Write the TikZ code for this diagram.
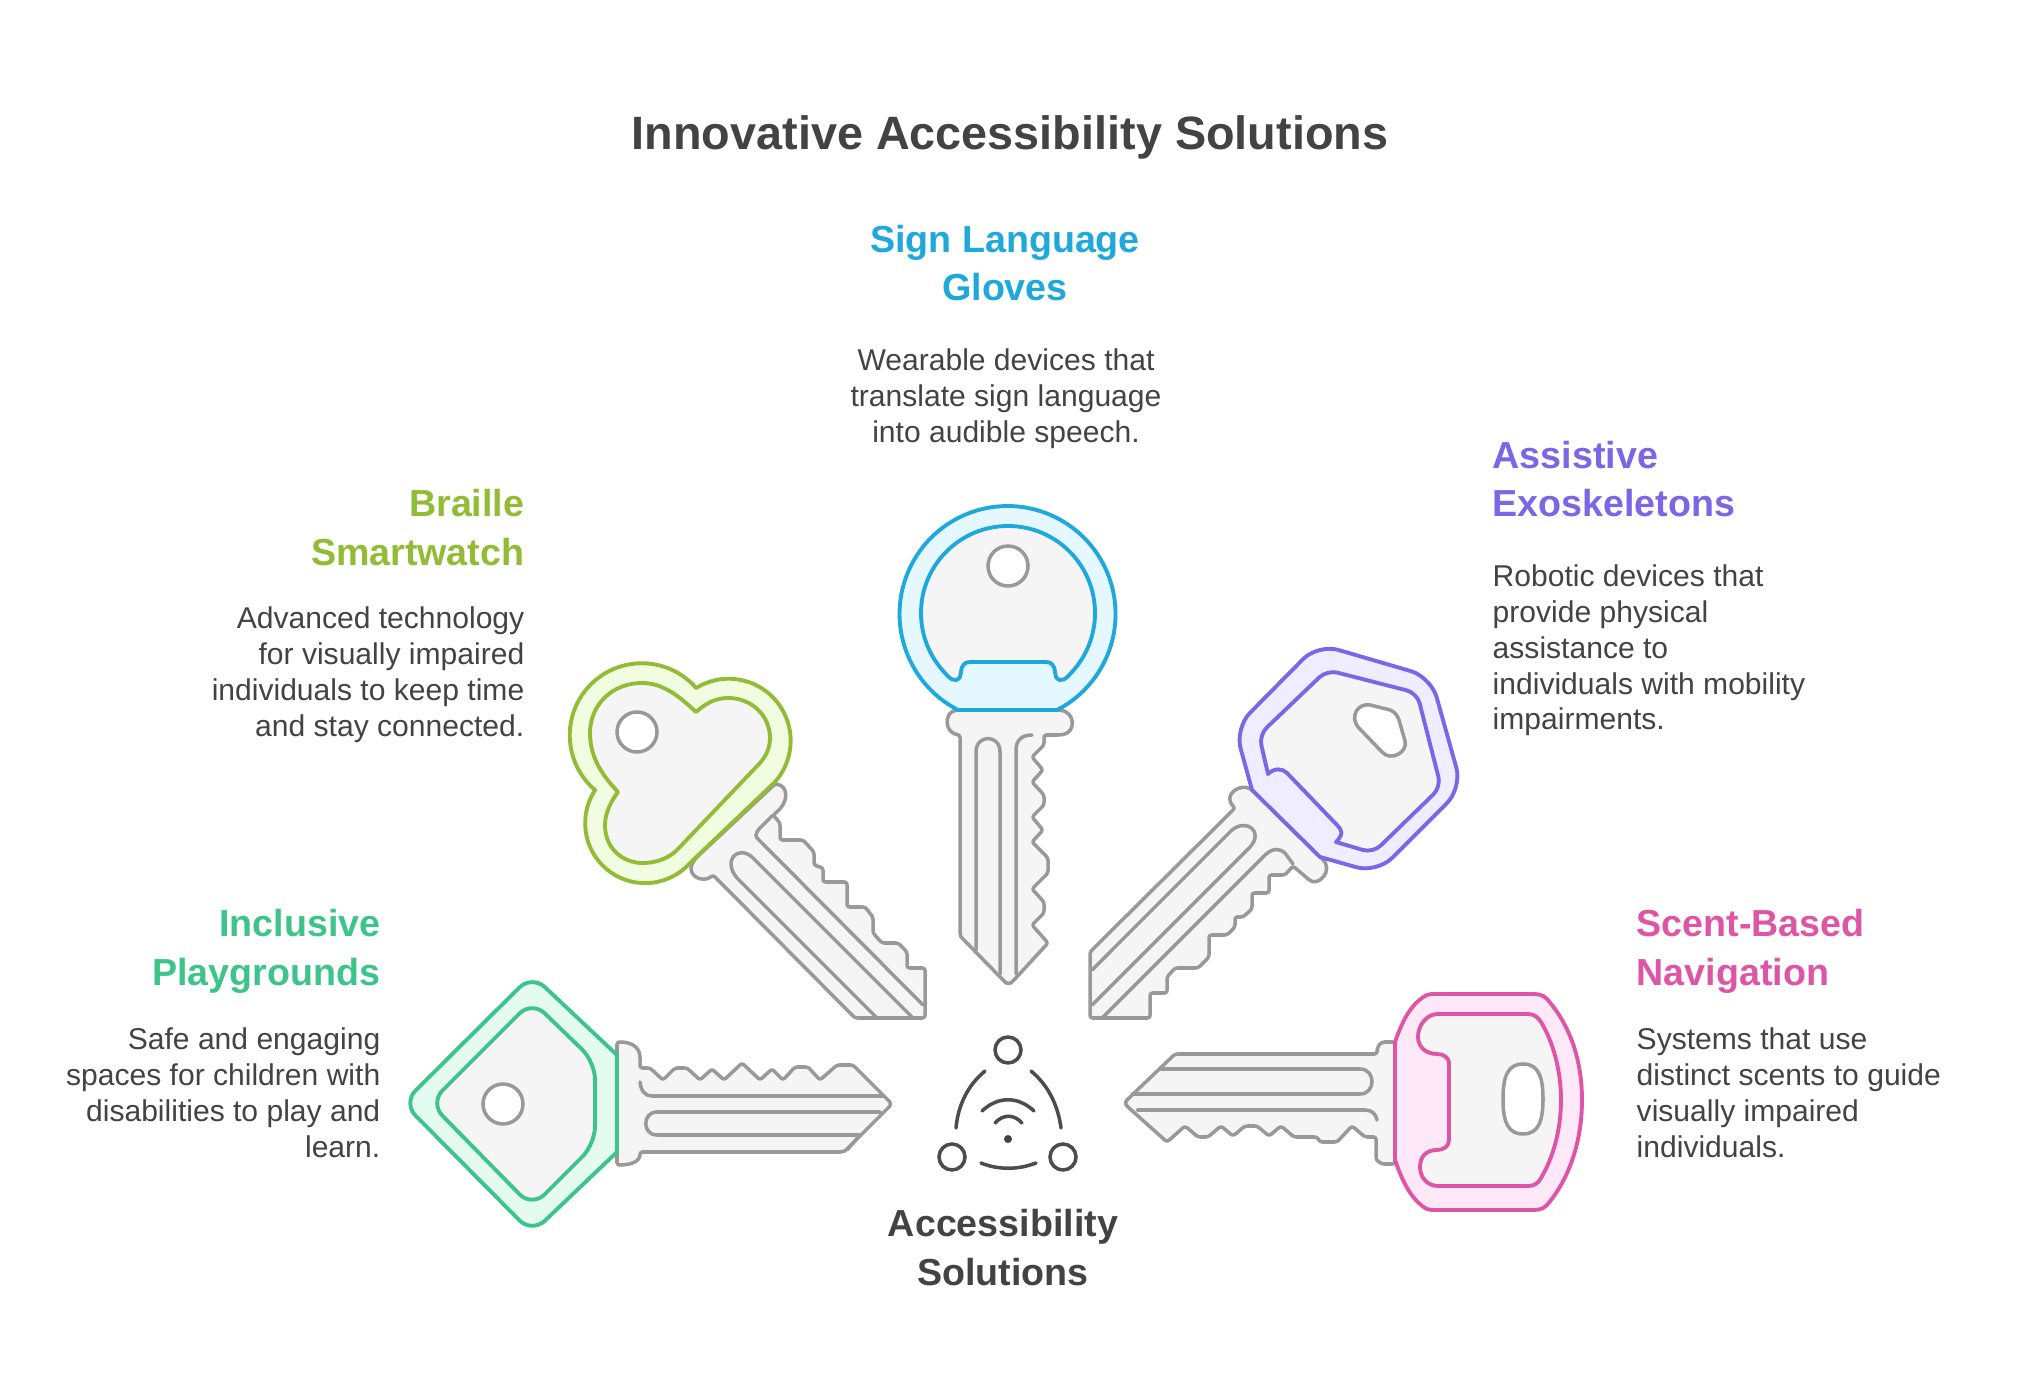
\documentclass[tikz,border=0pt]{standalone}
\usepackage{fontspec}
\setmainfont{Liberation Sans}
\definecolor{inkgrey}{HTML}{434343}
\definecolor{keygrey}{HTML}{999999}
\definecolor{keyfill}{HTML}{F5F5F5}
\definecolor{glovesblue}{HTML}{1EA8DB}
\definecolor{glovesbluefill}{HTML}{E5F7FF}
\definecolor{brailleLime}{HTML}{93BC36}
\definecolor{brailleLimefill}{HTML}{F2FCE0}
\definecolor{exoviolet}{HTML}{7A66E6}
\definecolor{exovioletfill}{HTML}{EFEDFF}
\definecolor{playgreen}{HTML}{3CC48A}
\definecolor{playgreenfill}{HTML}{E3FBF0}
\definecolor{scentpink}{HTML}{DE55A6}
\definecolor{scentpinkfill}{HTML}{FCE8F6}
\tikzset{
  shank/.style={draw=keygrey,fill=keyfill,line width=1pt,line join=round},
  groove/.style={draw=keygrey,line width=1pt,line cap=round},
  hole/.style={draw=keygrey,fill=white,line width=1pt},
  headouter/.style={draw=#1,fill=#1fill,line width=1.1pt,line join=round},
  headinner/.style={draw=#1,fill=keyfill,line width=1.1pt,line join=round},
  icon/.style={draw=inkgrey!95,line width=1pt,line cap=round},
  titletext/.style={inner sep=0pt,text=inkgrey,font=\fontsize{13.3}{16}\selectfont\bfseries},
  headtext/.style={inner sep=0pt,text=#1,font=\fontsize{10.7}{13.66}\selectfont\bfseries},
  desctext/.style={inner sep=0pt,text=inkgrey,font=\fontsize{8.55}{10.2}\selectfont},
}
\begin{document}
\begin{tikzpicture}[x=.01cm,y=.01cm,yscale=-1]
\path[use as bounding box,fill=white] (0,0) rectangle (2018,1392);

\node[titletext,anchor=north] (title) at (1010,115) {Innovative Accessibility Solutions};

% top key
\draw[shank,rounded corners=.7pt] (958,710) .. controls (944,712) and (944,733) .. (960,735) -- (960,930) .. controls (960,935) and (961,937) .. (963,939) -- (1003,980) .. controls (1007,984) and (1010,984) .. (1014,980) -- (1048,943) -- (1032,925) -- (1044,913) -- (1044,902) -- (1032,889) -- (1048,873) -- (1048,858) -- (1032,842) -- (1043,830) -- (1032,817) -- (1044,805) -- (1044,795) -- (1032,782) -- (1043,770) -- (1032,757) -- (1044,745) -- (1044,735) -- (1060,735) .. controls (1076,733) and (1076,712) .. (1058,710) -- cycle;
\draw[groove] (976,950) -- (976,752) .. controls (976,734) and (1000,734) .. (1000,752) -- (1000,974);
\draw[groove] (1016,974) -- (1016,750) .. controls (1016,740) and (1022,735) .. (1032,735);
\draw[headouter=glovesblue] (958,710) arc[start angle=117.3,end angle=422.7,radius=108] -- cycle;
\draw[headinner=glovesblue] (945,673) arc[start angle=136.4,end angle=403.6,radius=87] .. controls (1067,678) and (1061,684) .. (1056,677) .. controls (1054,672) and (1057,662) .. (1045,662) -- (971,662) .. controls (959,662) and (962,672) .. (960,677) .. controls (955,684) and (949,678) .. (945,673) -- cycle;
\draw[hole] (1008,566) circle (20);
\node[headtext=glovesblue,anchor=north,align=center] (glovestitle) at (1005,225) {Sign Language\\Gloves};
\node[desctext,anchor=north,align=center] (glovesdesc) at (1006,348) {Wearable devices that\\translate sign language\\into audible speech.};

% lime key
\draw[shank,rounded corners=.7pt] (775,784) .. controls (788,786) and (790,802) .. (773,815) -- (780,823) -- (780,840) -- (803,840) -- (814,852) -- (814,865) -- (823,868) -- (823,882) -- (847,882) -- (847,907) -- (865,907) -- (873,917) -- (873,933) -- (882,943) -- (898,943) -- (907,952) -- (907,968) -- (925,968) -- (925,1018) -- (855,1018) -- (713,875) .. controls (703,884) and (682,875) .. (697,857) -- cycle;
\draw[groove] (773,815) -- (759,829) .. controls (755,834) and (755,837) .. (759,840) -- (923,1005);
\draw[groove] (876,1017) -- (737,878) .. controls (722,860) and (738,845) .. (752,857) -- (913,1018);
\draw[headouter=brailleLime] (595,790) arc[start angle=130.5,end angle=319,radius=72] arc[start angle=238.3,end angle=401.6,radius=62] -- (690,863) arc[start angle=41.6,end angle=213.4,radius=60] -- cycle;
\draw[headinner=brailleLime] (696,712) .. controls (678,695) and (662,683) .. (642,683) .. controls (612,683) and (590,705) .. (590,733) .. controls (590,760) and (605,778) .. (618,792) .. controls (612,800) and (605,812) .. (605,825) .. controls (605,848) and (622,863) .. (643,863) .. controls (658,863) and (670,857) .. (677,850) -- (760,763) .. controls (766,756) and (770,748) .. (770,738) .. controls (770,716) and (752,698) .. (728,698) .. controls (715,698) and (705,704) .. (696,712) -- cycle;
\draw[hole] (637,732) circle (20);
\node[headtext=brailleLime,anchor=north east,align=right] (brailletitle) at (525,489) {Braille\\Smartwatch};
\node[desctext,anchor=north east,align=right] (brailledesc) at (525,606) {Advanced technology\\for visually impaired\\individuals to keep time\\and stay connected.};

% violet key
\draw[shank,rounded corners=.7pt] (1252,790) .. controls (1240,783) and (1222,795) .. (1235,808) -- (1090,952) -- (1090,1018) -- (1150,1018) -- (1150,993) -- (1167,993) -- (1167,977) -- (1175,968) -- (1198,968) -- (1209,957) -- (1209,935) -- (1227,935) -- (1235,927) -- (1235,917) -- (1243,917) -- (1252,909) -- (1252,893) -- (1269,893) -- (1269,875) -- (1285,875) -- (1293,866) -- (1307,878) .. controls (1318,888) and (1335,870) .. (1320,857) -- cycle;
\draw[groove] (1102,1018) -- (1265,855) .. controls (1273,848) and (1279,848) .. (1285,853) -- (1293,864);
\draw[groove] (1092,970) -- (1232,830) .. controls (1247,818) and (1264,832) .. (1250,847) -- (1092,1005);
\draw[headouter=exoviolet] (1252,790) [rounded corners=6pt] -- (1235,728) -- (1318,644) -- (1431,677) -- (1462,788) -- (1377,873) [sharp corners] -- (1320,857) -- cycle;
\draw[headinner=exoviolet] (1268,774) [rounded corners=3pt] -- (1259,735) -- (1327,670) -- (1417,693) -- (1441,787) -- (1373,853) [sharp corners] -- (1336,842) .. controls (1344,834) and (1342,830) .. (1337,825) -- (1287,773) .. controls (1282,768) and (1274,768) .. (1268,774) -- cycle;
\draw[hole] (1358,727) .. controls (1350,717) and (1357,703) .. (1370,705) -- (1390,710) .. controls (1395,712) and (1397,715) .. (1399,720) -- (1405,741) .. controls (1408,752) and (1391,762) .. (1382,752) -- cycle;
\node[headtext=exoviolet,anchor=north west,align=left] (exotitle) at (1492,441) {Assistive\\Exoskeletons};
\node[desctext,anchor=north west,align=left] (exodesc) at (1492,564) {Robotic devices that\\provide physical\\assistance to\\individuals with mobility\\impairments.};

% green key
\draw[shank,rounded corners=.7pt] (617,1042) .. controls (630,1042) and (640,1046) .. (640,1060) -- (640,1068) -- (650,1068) -- (663,1080) -- (675,1068) -- (687,1068) -- (700,1080) -- (712,1069) -- (724,1080) -- (742,1063) -- (760,1080) -- (772,1069) -- (783,1080) -- (795,1067) -- (808,1067) -- (820,1080) -- (837,1065) -- (853,1065) -- (887,1099) .. controls (891,1103) and (891,1105) .. (887,1109) -- (848,1148) .. controls (845,1151) and (843,1152) .. (838,1152) -- (640,1152) .. controls (640,1162) and (630,1165) .. (617,1165) -- cycle;
\draw[groove] (640,1082) .. controls (641,1091) and (645,1096) .. (652,1096) -- (883,1096);
\draw[groove] (880,1112) -- (657,1112) .. controls (642,1112) and (642,1135) .. (657,1135) -- (860,1135) -- (847,1150);
\draw[headouter=playgreen] (617,1055) [rounded corners=5pt] -- (532,975) -- (403,1103) -- (532,1233) [sharp corners] -- (617,1152) -- cycle;
\draw[headinner=playgreen,rounded corners=5pt] (532,1001) -- (430,1103) -- (532,1207) -- (595,1144) -- (595,1062) -- cycle;
\draw[hole] (503,1104) circle (20);
\node[headtext=playgreen,anchor=north east,align=right] (playtitle) at (381,909) {Inclusive\\Playgrounds};
\node[desctext,anchor=north east,align=right] (playdesc) at (381,1027) {Safe and engaging\\spaces for children with\\disabilities to play and\\learn.};

% pink key
\draw[shank,rounded corners=.7pt] (1395,1042) -- (1387,1042) .. controls (1380,1042) and (1377,1047) .. (1377,1054) -- (1175,1054) -- (1129,1098) .. controls (1125,1102) and (1125,1104) .. (1129,1108) -- (1167,1142) -- (1185,1126) -- (1198,1137) -- (1208,1137) -- (1221,1126) -- (1233,1136) -- (1245,1126) -- (1257,1126) -- (1269,1136) -- (1281,1126) -- (1294,1137) -- (1317,1137) -- (1320,1142) -- (1337,1142) -- (1352,1126) -- (1365,1137) -- (1376,1137) -- (1376,1155) .. controls (1376,1161) and (1381,1164) .. (1387,1164) -- (1395,1164) -- cycle;
\draw[groove] (1160,1069) -- (1360,1069) .. controls (1376,1069) and (1376,1094) .. (1360,1094) -- (1132,1094);
\draw[groove] (1137,1110) -- (1365,1110) .. controls (1372,1110) and (1376,1114) .. (1377,1120);
\draw[headouter=scentpink] (1395,1042) .. controls (1402,1022) and (1410,1005) .. (1425,996) .. controls (1428,994) and (1432,994) .. (1436,994) -- (1530,994) .. controls (1538,994) and (1542,994) .. (1547,999) .. controls (1570,1025) and (1582,1060) .. (1582,1100) .. controls (1582,1140) and (1570,1178) .. (1547,1205) .. controls (1542,1210) and (1538,1210) .. (1530,1210) -- (1436,1210) .. controls (1432,1210) and (1428,1210) .. (1425,1208) .. controls (1410,1198) and (1402,1180) .. (1395,1160) -- cycle;
\draw[headinner=scentpink] (1438,1014) -- (1528,1014) .. controls (1535,1014) and (1538,1018) .. (1541,1022) .. controls (1553,1042) and (1561,1070) .. (1561,1100) .. controls (1561,1130) and (1553,1158) .. (1541,1178) .. controls (1538,1183) and (1535,1186) .. (1528,1186) -- (1438,1186) .. controls (1428,1186) and (1420,1178) .. (1420,1167) .. controls (1420,1158) and (1425,1150) .. (1437,1150) .. controls (1444,1150) and (1449,1146) .. (1449,1140) -- (1449,1063) .. controls (1449,1058) and (1444,1054) .. (1437,1054) .. controls (1425,1054) and (1418,1046) .. (1418,1037) .. controls (1418,1026) and (1426,1014) .. (1438,1014) -- cycle;
\draw[hole] (1523,1064) .. controls (1538,1064) and (1543,1076) .. (1543,1099) .. controls (1543,1122) and (1538,1134) .. (1523,1134) .. controls (1508,1134) and (1503,1122) .. (1503,1099) .. controls (1503,1076) and (1508,1064) .. (1523,1064) -- cycle;
\node[headtext=scentpink,anchor=north west,align=left] (scenttitle) at (1636,909) {Scent-Based\\Navigation};
\node[desctext,anchor=north west,align=left] (scentdesc) at (1636,1027) {Systems that use\\distinct scents to guide\\visually impaired\\individuals.};

% centre icon
\draw[icon] (1008,1050) circle (13);
\draw[icon] (952,1157) circle (13);
\draw[icon] (1063,1157) circle (13);
\draw[icon] (985,1071) .. controls (968,1085) and (958,1105) .. (956,1128);
\draw[icon] (1031,1071) .. controls (1048,1085) and (1058,1105) .. (1061,1128);
\draw[icon] (981,1163) .. controls (998,1170) and (1018,1170) .. (1036,1163);
\draw[icon] (982,1111) .. controls (998,1096) and (1018,1096) .. (1034,1111);
\draw[icon] (995,1123) .. controls (1003,1114) and (1014,1114) .. (1022,1123);
\fill[inkgrey] (1008,1139) circle (4);
\node[headtext=inkgrey,anchor=north,align=center] (hubtitle) at (1003,1209) {Accessibility\\Solutions};
\end{tikzpicture}
\end{document}
